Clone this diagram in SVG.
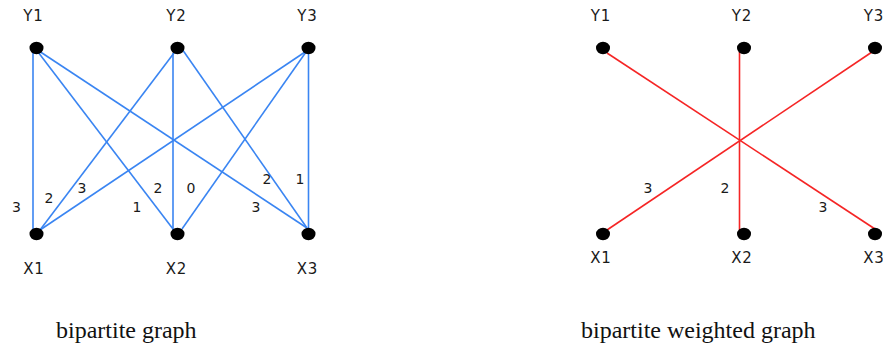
<svg xmlns="http://www.w3.org/2000/svg" width="883" height="350" viewBox="0 0 883 350">
<style>
.dot{fill:#000}
.lbl{font-family:"DejaVu Sans",Verdana,sans-serif;font-size:15px;fill:#1a1a1a;text-anchor:middle;letter-spacing:0.8px}
.w{font-family:"DejaVu Sans",Verdana,sans-serif;font-size:14px;fill:#1a1a1a;text-anchor:middle}
.blue{stroke:#3a85f2;stroke-width:1.6;fill:none}
.red{stroke:#f52525;stroke-width:1.6;fill:none}
.cap{font-family:"Liberation Serif","Times New Roman",serif;font-size:24px;fill:#111}
</style>
<rect width="883" height="350" fill="#fff"/>
<g id="connectors">
  <line class="blue" x1="33" y1="50" x2="33" y2="232"/>
  <line class="blue" x1="38" y1="52" x2="173" y2="229"/>
  <line class="blue" x1="39" y1="51" x2="307" y2="228"/>
  <line class="blue" x1="174" y1="53" x2="40" y2="230"/>
  <line class="blue" x1="173" y1="53" x2="173" y2="232"/>
  <line class="blue" x1="182" y1="49" x2="307" y2="228"/>
  <line class="blue" x1="305" y1="52" x2="40" y2="230"/>
  <line class="blue" x1="306" y1="52" x2="182" y2="229"/>
  <line class="blue" x1="308.5" y1="50" x2="308.5" y2="232"/>
  <text class="w" x="16.5" y="212">3</text>
  <text class="w" x="49" y="203">2</text>
  <text class="w" x="82" y="193">3</text>
  <text class="w" x="137" y="212">1</text>
  <text class="w" x="158" y="193">2</text>
  <text class="w" x="191" y="193">0</text>
  <text class="w" x="267" y="184">2</text>
  <text class="w" x="300" y="184">1</text>
  <text class="w" x="256" y="212">3</text>
  <line class="red" x1="607" y1="53" x2="875" y2="229"/>
  <line class="red" x1="739.5" y1="52" x2="739.5" y2="234"/>
  <line class="red" x1="872" y1="52" x2="607" y2="230"/>
  <text class="w" x="648" y="193">3</text>
  <text class="w" x="725" y="193">2</text>
  <text class="w" x="823" y="212">3</text>
</g>
<g id="L-Y1"><ellipse class="dot" cx="36.5" cy="48" rx="7" ry="6.2"/><text class="lbl" x="33.5" y="21">Y1</text></g>
<g id="L-Y2"><ellipse class="dot" cx="177.5" cy="48" rx="7" ry="6.2"/><text class="lbl" x="176.5" y="21">Y2</text></g>
<g id="L-Y3"><ellipse class="dot" cx="308.5" cy="48" rx="7" ry="6.2"/><text class="lbl" x="307.5" y="21">Y3</text></g>
<g id="L-X1"><ellipse class="dot" cx="36.5" cy="234" rx="7" ry="6.2"/><text class="lbl" x="34" y="274">X1</text></g>
<g id="L-X2"><ellipse class="dot" cx="177.5" cy="234" rx="7" ry="6.2"/><text class="lbl" x="176.5" y="274">X2</text></g>
<g id="L-X3"><ellipse class="dot" cx="308.5" cy="234" rx="7" ry="6.2"/><text class="lbl" x="307.5" y="274">X3</text></g>
<g id="R-Y1"><ellipse class="dot" cx="603" cy="48" rx="7" ry="6.2"/><text class="lbl" x="601" y="21">Y1</text></g>
<g id="R-Y2"><ellipse class="dot" cx="744" cy="48" rx="7" ry="6.2"/><text class="lbl" x="742" y="21">Y2</text></g>
<g id="R-Y3"><ellipse class="dot" cx="875" cy="48" rx="7" ry="6.2"/><text class="lbl" x="874" y="21">Y3</text></g>
<g id="R-X1"><ellipse class="dot" cx="603" cy="234" rx="7" ry="6.2"/><text class="lbl" x="601" y="263">X1</text></g>
<g id="R-X2"><ellipse class="dot" cx="744" cy="234" rx="7" ry="6.2"/><text class="lbl" x="742" y="263">X2</text></g>
<g id="R-X3"><ellipse class="dot" cx="875" cy="234" rx="7" ry="6.2"/><text class="lbl" x="874" y="263">X3</text></g>
<text class="cap" x="56" y="338">bipartite graph</text>
<text class="cap" x="581" y="338">bipartite weighted graph</text>
</svg>
